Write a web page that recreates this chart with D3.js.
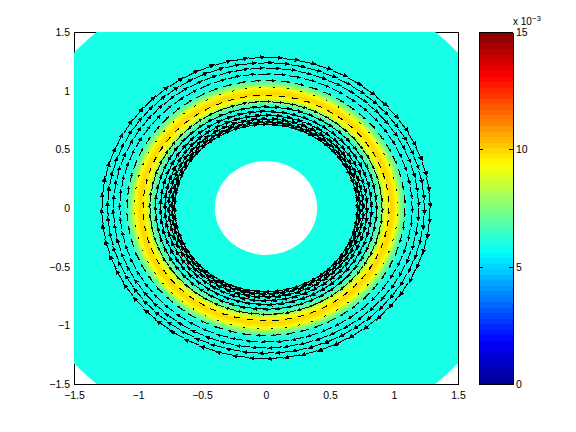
<!DOCTYPE html>
<html>
<head>
<meta charset="utf-8">
<script src="https://cdn.jsdelivr.net/npm/d3@7"></script>
<style>
  html, body { margin: 0; padding: 0; background: #fff; }
  svg { display: block; }
  text { font-family: "Liberation Sans", sans-serif; font-size: 10.5px; fill: #000; }
</style>
</head>
<body>
<svg id="chart"></svg>
<script>
// field values are in units of 1e-3
const backgroundValue = 6.0;
const domainOuter = 2.0;
const domainInner = 0.4;

// colour rings, outer radius of each ring and its value (largest first)
const ringRadii = [1.11, 1.09, 1.07, 1.05, 1.03, 1.01, 0.99, 0.97, 0.95, 0.93, 0.91, 0.89, 0.87];
const ringValues = [6.2, 6.7, 7.4, 8.4, 9.3, 9.7, 9.9, 9.7, 9.3, 8.4, 7.4, 6.7, 6.2];

// arrows: radius of each ring of arrows and arrow length on it (clockwise +)
const arrowRadii = [1.28, 1.235, 1.19, 1.14, 1.085, 1.03, 0.96, 0.905, 0.86, 0.82, 0.785, 0.755, 0.73, 0.71];
const arrowSpeeds = [0.135, 0.125, 0.115, 0.100, 0.075, 0.015, 0.050, 0.090, 0.110, 0.120, 0.125, 0.130, 0.130, 0.130];
const arrowOffsets = [0, 3, 0, 3, 0, 3, 0, 3, 0, 3, 0, 3, 0, 3];
const spokeAngles = [0, 6, 12, 18, 24, 30, 36, 42, 48, 54, 60, 66, 72, 78, 84, 90, 96, 102, 108, 114,
  120, 126, 132, 138, 144, 150, 156, 162, 168, 174, 180, 186, 192, 198, 204, 210, 216, 222, 228, 234,
  240, 246, 252, 258, 264, 270, 276, 282, 288, 294, 300, 306, 312, 318, 324, 330, 336, 342, 348, 354];

const axisTicks = [-1.5, -1, -0.5, 0, 0.5, 1, 1.5];
const colorTicks = [0, 5, 10, 15];

// jet colormap anchors
const jetStops = [0, 0.125, 0.375, 0.625, 0.875, 1];
const jetColors = ["#00008f", "#0000ff", "#00ffff", "#ffff00", "#ff0000", "#800000"];
const colorLevels = 64;

const width = 576, height = 432;
const margin = {top: 32, right: 118, bottom: 48, left: 74};
const barLeft = 479, barRight = 513;

const svg = d3.select("#chart").attr("width", width).attr("height", height);

const xscale = d3.scaleLinear().domain([-1.5, 1.5]).range([margin.left, width - margin.right]);
const yscale = d3.scaleLinear().domain([-1.5, 1.5]).range([height - margin.bottom, margin.top]);
const barScale = d3.scaleLinear().domain([0, 15]).range([height - margin.bottom, margin.top]);

const jet = d3.scaleLinear().domain(jetStops).range(jetColors).interpolate(d3.interpolateRgb);
function valueColor(v) {
  let level = Math.min(colorLevels - 1, Math.floor(v / 15 * colorLevels));
  return jet((level + 0.5) / colorLevels);
}
const fmt = d => String(d).replace("-", "\u2212");

// axes go under the field, as in the original
const xaxis = d3.axisBottom(xscale).tickValues(axisTicks).tickFormat(fmt).tickSizeInner(-4).tickSizeOuter(0).tickPadding(8);
const yaxis = d3.axisLeft(yscale).tickValues(axisTicks).tickFormat(fmt).tickSizeInner(-4).tickSizeOuter(0).tickPadding(4);
const xtop = d3.axisTop(xscale).tickValues(axisTicks).tickFormat("").tickSizeInner(-4).tickSizeOuter(0);
const yright = d3.axisRight(yscale).tickValues(axisTicks).tickFormat("").tickSizeInner(-4).tickSizeOuter(0);

const axes = svg.append("g");
axes.append("g").attr("transform", `translate(0,${height - margin.bottom})`).call(xaxis);
axes.append("g").attr("transform", `translate(${margin.left},0)`).call(yaxis);
axes.append("g").attr("transform", `translate(0,${margin.top})`).call(xtop);
axes.append("g").attr("transform", `translate(${width - margin.right},0)`).call(yright);
axes.selectAll("line, path").attr("shape-rendering", "crispEdges").attr("stroke", "#000");
axes.selectAll("text").attr("font-size", null).attr("font-family", null);

svg.append("clipPath").attr("id", "plotclip").append("rect")
    .attr("x", margin.left).attr("y", margin.top)
    .attr("width", width - margin.left - margin.right)
    .attr("height", height - margin.top - margin.bottom);

const field = svg.append("g").attr("clip-path", "url(#plotclip)");

function disc(r, fill) {
  field.append("ellipse")
      .attr("cx", xscale(0)).attr("cy", yscale(0))
      .attr("rx", xscale(r) - xscale(0)).attr("ry", yscale(0) - yscale(r))
      .attr("fill", fill);
}

disc(domainOuter, valueColor(backgroundValue));
ringRadii.forEach((r, i) => disc(r, valueColor(ringValues[i])));
disc(ringRadii[ringRadii.length - 1] - 0.02, valueColor(backgroundValue));
disc(domainInner, "#fff");

// quiver
const arrows = [];
arrowRadii.forEach((r, i) => {
  spokeAngles.forEach(a => {
    arrows.push({r: r, a: (a + arrowOffsets[i]) * Math.PI / 180, s: arrowSpeeds[i]});
  });
});

function arrowEnds(d) {
  const x0 = d.r * Math.cos(d.a), y0 = d.r * Math.sin(d.a);
  // clockwise tangent
  return {x0: x0, y0: y0, x1: x0 + d.s * Math.sin(d.a), y1: y0 - d.s * Math.cos(d.a)};
}

function shaftPath(d) {
  const e = arrowEnds(d);
  return `M${xscale(e.x0)},${yscale(e.y0)}L${xscale(e.x1)},${yscale(e.y1)}`;
}

function headPath(d) {
  const e = arrowEnds(d);
  const hx = (e.x0 - e.x1) * 0.36, hy = (e.y0 - e.y1) * 0.36;
  const c = Math.cos(0.42), s = Math.sin(0.42);
  const p = d3.path();
  p.moveTo(xscale(e.x1), yscale(e.y1));
  p.lineTo(xscale(e.x1 + hx * c - hy * s), yscale(e.y1 + hx * s + hy * c));
  p.lineTo(xscale(e.x1 + hx * c + hy * s), yscale(e.y1 - hx * s + hy * c));
  p.closePath();
  return p.toString();
}

const quiver = svg.append("g").attr("shape-rendering", "crispEdges");
quiver.append("g").selectAll("path")
    .data(arrows)
    .join("path")
    .attr("d", shaftPath)
    .attr("fill", "none")
    .attr("stroke", "#000")
    .attr("stroke-width", 1);
quiver.append("g").selectAll("path")
    .data(arrows)
    .join("path")
    .attr("d", headPath)
    .attr("fill", "#000");

// colorbar
const bar = svg.append("g");
bar.selectAll("rect")
    .data(d3.range(colorLevels))
    .join("rect")
    .attr("x", barLeft)
    .attr("width", barRight - barLeft)
    .attr("y", d => barScale((d + 1) * 15 / colorLevels))
    .attr("height", d => barScale(d * 15 / colorLevels) - barScale((d + 1) * 15 / colorLevels) + 0.5)
    .attr("fill", d => jet((d + 0.5) / colorLevels))
    .attr("shape-rendering", "crispEdges");

const barLeftAxis = d3.axisLeft(barScale).tickValues(colorTicks).tickFormat("").tickSizeInner(-4).tickSizeOuter(0);
const barRightAxis = d3.axisRight(barScale).tickValues(colorTicks).tickSizeInner(-4).tickSizeOuter(0).tickPadding(3);
const barAxes = svg.append("g");
barAxes.append("g").attr("transform", `translate(${barLeft},0)`).call(barLeftAxis);
barAxes.append("g").attr("transform", `translate(${barRight},0)`).call(barRightAxis);
barAxes.append("line").attr("x1", barLeft).attr("x2", barRight).attr("y1", margin.top).attr("y2", margin.top).attr("stroke", "#000");
barAxes.append("line").attr("x1", barLeft).attr("x2", barRight).attr("y1", height - margin.bottom).attr("y2", height - margin.bottom).attr("stroke", "#000");
barAxes.selectAll("line, path").attr("shape-rendering", "crispEdges").attr("stroke", "#000");
barAxes.selectAll("text").attr("font-size", null).attr("font-family", null);

const expo = svg.append("text").attr("x", 513).attr("y", 25).style("font-size", "10px");
expo.append("tspan").text("x 10");
expo.append("tspan").attr("dy", -4).style("font-size", "8px").text("\u22123");
</script>
</body>
</html>
